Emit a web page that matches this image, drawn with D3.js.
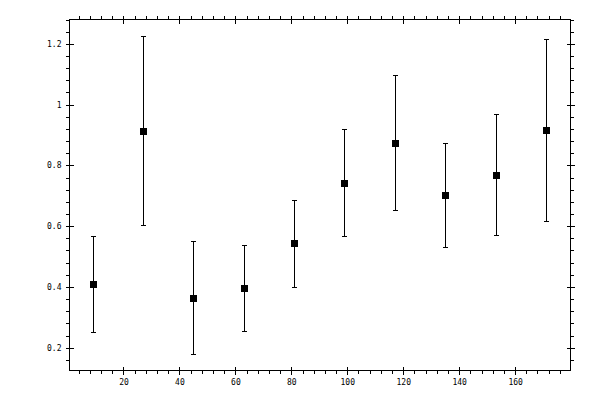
<!DOCTYPE html>
<html>
<head>
<meta charset="utf-8">
<script src="https://cdn.jsdelivr.net/npm/d3@7"></script>
<style>
  body { margin: 0; background: #fff; }
  svg { display: block; }
  .axis text { font-family: "DejaVu Sans Mono", monospace; font-size: 8px; fill: #000; }
  .axis line, .axis path { stroke: #000; shape-rendering: crispEdges; }
</style>
</head>
<body>
<div id="container"></div>
<script>
// data
const xValues = [9, 27, 45, 63, 81, 99, 117, 135, 153, 171];
const yValues = [0.410, 0.914, 0.364, 0.397, 0.543, 0.743, 0.874, 0.703, 0.769, 0.917];
const yUpper = [0.568, 1.226, 0.551, 0.539, 0.687, 0.920, 1.097, 0.873, 0.968, 1.215];
const yLower = [0.253, 0.605, 0.180, 0.256, 0.401, 0.568, 0.654, 0.532, 0.572, 0.618];
const xTicks = [20, 40, 60, 80, 100, 120, 140, 160];
const yTicks = [0.2, 0.4, 0.6, 0.8, 1, 1.2];
const xDomain = [0.7, 179.8];
const yDomain = [0.125, 1.28];

const points = xValues.map((x, i) => ({ x: x, y: yValues[i], hi: yUpper[i], lo: yLower[i] }));

const width = 600, height = 400;
const frame = { left: 69.5, right: 570.5, top: 19.5, bottom: 370.5 };

const svg = d3.select("#container").append("svg")
    .attr("width", width)
    .attr("height", height);

const x = d3.scaleLinear().domain(xDomain).range([frame.left, frame.right]);
const y = d3.scaleLinear().domain(yDomain).range([frame.bottom, frame.top]);

const xMinor = d3.range(4, 180, 4).filter(d => d % 20 !== 0);
const yMinor = d3.range(0.16, 1.28, 0.04).map(d => +d.toFixed(2)).filter(d => Math.abs(d * 5 - Math.round(d * 5)) > 1e-6);

// helper: one axis group, ticks only
function ticksOnly(axis, transform) {
    const g = svg.append("g").attr("class", "axis").attr("transform", transform).call(axis);
    g.select(".domain").remove();
    return g;
}

// bottom: labelled majors (outward), majors inward, minors outward
ticksOnly(d3.axisBottom(x).tickValues(xTicks).tickSizeInner(4).tickSizeOuter(0).tickPadding(5).tickFormat(d3.format("d")), `translate(0,${frame.bottom})`);
ticksOnly(d3.axisBottom(x).tickValues(xTicks).tickSize(-4).tickFormat(""), `translate(0,${frame.bottom})`);
ticksOnly(d3.axisBottom(x).tickValues(xMinor).tickSize(3.5).tickFormat(""), `translate(0,${frame.bottom})`);

// top
ticksOnly(d3.axisTop(x).tickValues(xTicks).tickSize(4).tickFormat(""), `translate(0,${frame.top})`);
ticksOnly(d3.axisTop(x).tickValues(xTicks).tickSize(-4).tickFormat(""), `translate(0,${frame.top})`);
ticksOnly(d3.axisTop(x).tickValues(xMinor).tickSize(3.5).tickFormat(""), `translate(0,${frame.top})`);

// left
ticksOnly(d3.axisLeft(y).tickValues(yTicks).tickSizeInner(4).tickSizeOuter(0).tickPadding(4).tickFormat(d => String(d)), `translate(${frame.left},0)`);
ticksOnly(d3.axisLeft(y).tickValues(yTicks).tickSize(-4).tickFormat(""), `translate(${frame.left},0)`);
ticksOnly(d3.axisLeft(y).tickValues(yMinor).tickSize(3.5).tickFormat(""), `translate(${frame.left},0)`);

// right
ticksOnly(d3.axisRight(y).tickValues(yTicks).tickSize(4).tickFormat(""), `translate(${frame.right},0)`);
ticksOnly(d3.axisRight(y).tickValues(yTicks).tickSize(-4).tickFormat(""), `translate(${frame.right},0)`);
ticksOnly(d3.axisRight(y).tickValues(yMinor).tickSize(3.5).tickFormat(""), `translate(${frame.right},0)`);

// frame
svg.append("rect")
    .attr("x", frame.left).attr("y", frame.top)
    .attr("width", frame.right - frame.left).attr("height", frame.bottom - frame.top)
    .attr("fill", "none").attr("stroke", "#000")
    .style("shape-rendering", "crispEdges");

// error bars
const bars = svg.append("g").attr("stroke", "#000").style("shape-rendering", "crispEdges");

bars.selectAll(".whisker")
    .data(points)
    .enter().append("line")
    .attr("class", "whisker")
    .attr("x1", d => Math.round(x(d.x)) + 0.5)
    .attr("x2", d => Math.round(x(d.x)) + 0.5)
    .attr("y1", d => y(d.hi))
    .attr("y2", d => y(d.lo));

bars.selectAll(".cap-hi")
    .data(points)
    .enter().append("line")
    .attr("class", "cap-hi")
    .attr("x1", d => Math.round(x(d.x)) - 2)
    .attr("x2", d => Math.round(x(d.x)) + 3)
    .attr("y1", d => Math.round(y(d.hi)) + 0.5)
    .attr("y2", d => Math.round(y(d.hi)) + 0.5);

bars.selectAll(".cap-lo")
    .data(points)
    .enter().append("line")
    .attr("class", "cap-lo")
    .attr("x1", d => Math.round(x(d.x)) - 2)
    .attr("x2", d => Math.round(x(d.x)) + 3)
    .attr("y1", d => Math.round(y(d.lo)) + 0.5)
    .attr("y2", d => Math.round(y(d.lo)) + 0.5);

// square markers
svg.selectAll(".marker")
    .data(points)
    .enter().append("rect")
    .attr("class", "marker")
    .attr("x", d => Math.round(x(d.x)) - 3)
    .attr("y", d => Math.round(y(d.y)) - 3)
    .attr("width", 7)
    .attr("height", 7)
    .attr("fill", "#000")
    .style("shape-rendering", "crispEdges");
</script>
</body>
</html>
